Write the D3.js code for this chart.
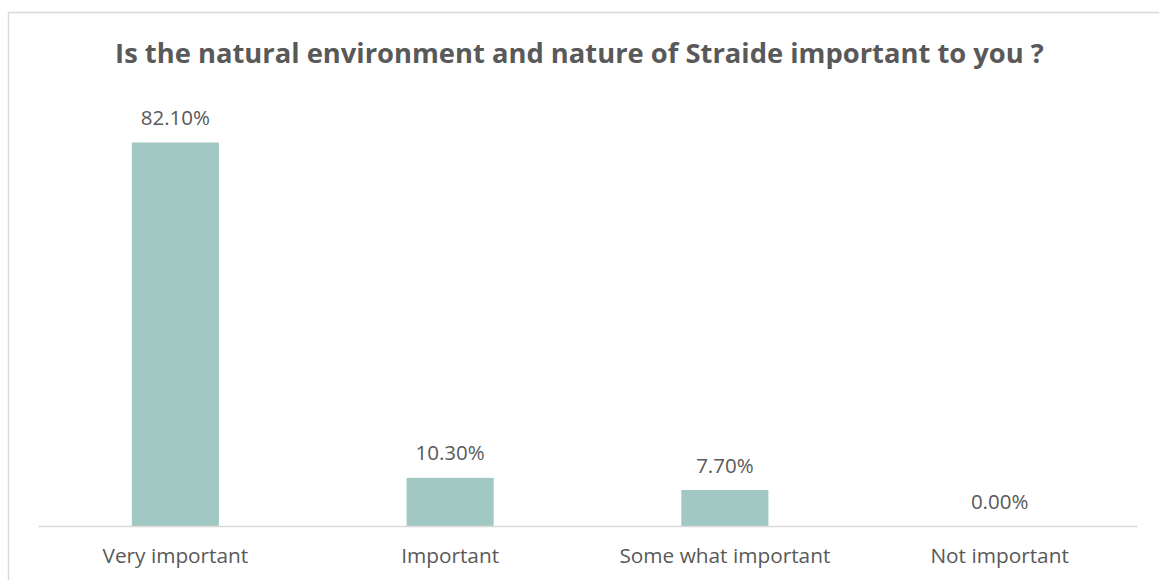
<!DOCTYPE html>
<html>
<head>
<meta charset="utf-8">
<script src="https://cdn.jsdelivr.net/npm/d3@7"></script>
<style>
  html, body { margin: 0; padding: 0; background: #fff; }
  svg { display: block; }
</style>
</head>
<body>
<svg id="chart" width="1159" height="580"></svg>
<script>
// Survey responses
const title = "Is the natural environment and nature of Straide important to you ?";
const categories = ["Very important", "Important", "Some what important", "Not important"];
const shares = [82.1, 10.3, 7.7, 0.0];

const W = 1159, H = 580;
const svg = d3.select("#chart");
const textColor = "#595959";
const font = "'Open Sans', 'Liberation Sans', sans-serif";

// Chart frame
svg.append("rect")
  .attr("x", 8.5).attr("y", 12.5)
  .attr("width", W + 20).attr("height", H + 20)
  .attr("fill", "#fff")
  .attr("stroke", "#d9d9d9").attr("stroke-width", 1.5);

const x = d3.scaleBand()
  .domain(categories)
  .range([38, 1137])
  .paddingInner(0.683)
  .paddingOuter(0.3415);

const y = d3.scaleLinear()
  .domain([0, 90])
  .range([526, 105.6]);

// Bars
svg.append("g").selectAll("rect")
  .data(categories)
  .join("rect")
  .attr("x", d => x(d))
  .attr("width", x.bandwidth())
  .attr("y", (d, i) => y(shares[i]))
  .attr("height", (d, i) => y(0) - y(shares[i]))
  .attr("fill", "#a2c8c4");

// Category axis
const xAxis = svg.append("g")
  .attr("transform", `translate(0,${y(0)})`)
  .call(d3.axisBottom(x).tickSize(0).tickPadding(22));
xAxis.select(".domain").attr("stroke", "#d9d9d9").attr("stroke-width", 1.5);
xAxis.selectAll("text")
  .attr("fill", textColor)
  .style("font-family", font)
  .style("font-size", "20.8px");

// Value labels
svg.append("g").selectAll("text")
  .data(categories)
  .join("text")
  .attr("x", d => x(d) + x.bandwidth() / 2)
  .attr("y", (d, i) => y(shares[i]) - 17.5)
  .attr("text-anchor", "middle")
  .attr("fill", textColor)
  .style("font-family", font)
  .style("font-size", "20.5px")
  .text((d, i) => shares[i].toFixed(2) + "%");

// Title
svg.append("text")
  .attr("x", 579.5).attr("y", 63)
  .attr("text-anchor", "middle")
  .attr("fill", textColor)
  .style("font-family", font)
  .style("font-size", "27.35px")
  .style("font-weight", "bold")
  .text(title);
</script>
</body>
</html>
